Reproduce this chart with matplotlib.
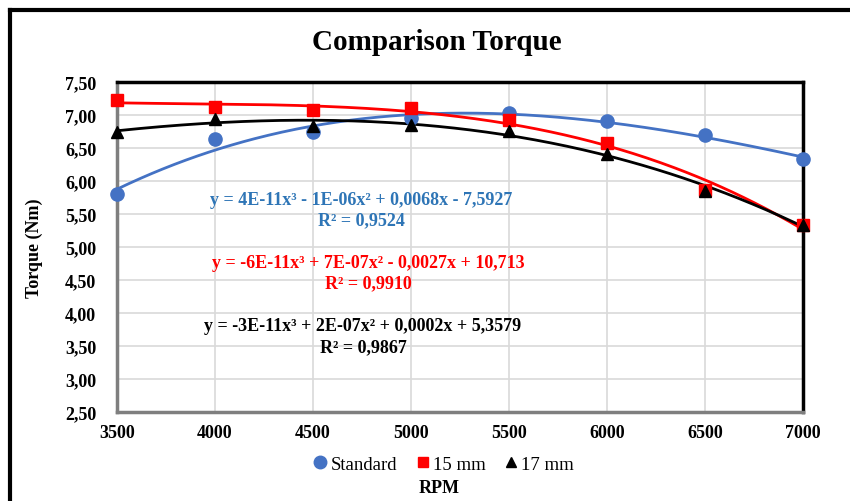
import numpy as np
import matplotlib
matplotlib.use("Agg")
import matplotlib.pyplot as plt
from matplotlib.lines import Line2D

rpm = [3500, 4000, 4500, 5000, 5500, 6000, 6500, 7000]
standard = [5.81, 6.64, 6.74, 6.95, 7.03, 6.91, 6.69, 6.34]
mm15 = [7.22, 7.12, 7.08, 7.10, 6.93, 6.57, 5.87, 5.33]
mm17 = [6.75, 6.94, 6.84, 6.85, 6.76, 6.41, 5.85, 5.34]

eq_std = ["y = 4E-11x³ - 1E-06x² + 0,0068x - 7,5927", "R² = 0,9524"]
eq_15 = ["y = -6E-11x³ + 7E-07x² - 0,0027x + 10,713", "R² = 0,9910"]
eq_17 = ["y = -3E-11x³ + 2E-07x² + 0,0002x + 5,3579", "R² = 0,9867"]

yticks = [2.5, 3.0, 3.5, 4.0, 4.5, 5.0, 5.5, 6.0, 6.5, 7.0, 7.5]
xticks = [3500, 4000, 4500, 5000, 5500, 6000, 6500, 7000]

plt.rcParams['font.family'] = ['Liberation Serif', 'DejaVu Serif']

W, H = 850, 502
fig = plt.figure(figsize=(W / 100, H / 100), dpi=100)
ax = fig.add_axes([117 / W, 1 - 413 / H, (803 - 117) / W, (413 - 83) / H])

blue, red, black = '#4472C4', '#FF0000', '#000000'
x = np.array(rpm, dtype=float)
xs = np.linspace(3500, 7000, 300)
for ys, c, m, ms in [(standard, blue, 'o', 9.5), (mm15, red, 's', 8), (mm17, black, '^', 8)]:
    p = np.polyfit(x, np.array(ys), 3)
    ax.plot(xs, np.polyval(p, xs), color=c, lw=2, zorder=3)
    ax.plot(x, ys, linestyle='none', marker=m, color=c, markersize=ms, zorder=4,
            clip_on=False)

ax.set_xlim(3500, 7000)
ax.set_ylim(2.5, 7.5)
ax.set_xticks(xticks)
ax.set_yticks(yticks)
ax.set_xticklabels([str(v) for v in xticks], fontweight='bold', fontsize=13)
ax.set_yticklabels([f"{v:.2f}".replace('.', ',') for v in yticks], fontweight='bold', fontsize=13)
ax.tick_params(length=0, pad=9)
ax.tick_params(axis='y', pad=15)
ax.grid(True, color='#D9D9D9', lw=1.2, zorder=0)
ax.set_axisbelow(True)
for s in ['top', 'right']:
    ax.spines[s].set_color('black')
    ax.spines[s].set_linewidth(2.5)
for s in ['left', 'bottom']:
    ax.spines[s].set_color('#7F7F7F')
    ax.spines[s].set_linewidth(2.5)

# equations
def eq(lines, color, cx, y1, y2):
    fig.text(cx / W, 1 - y1 / H, lines[0], color=color, fontsize=13, fontweight='bold',
             ha='center', va='center')
    fig.text(cx / W, 1 - y2 / H, lines[1], color=color, fontsize=13, fontweight='bold',
             ha='center', va='center')

eq(eq_std, '#2E75B6', 361, 201, 221)
eq(eq_15, red, 368, 264, 284)
eq(eq_17, black, 363, 327, 348)

fig.text(437 / W, 1 - 42 / H, "Comparison Torque", fontsize=21, fontweight='bold',
         ha='center', va='center')
fig.text(34 / W, 1 - 248 / H, "Torque (Nm)", fontsize=13, fontweight='bold',
         ha='center', va='center', rotation=90)
fig.text(439 / W, 1 - 489 / H, "RPM", fontsize=13, fontweight='bold',
         ha='center', va='center')

handles = [Line2D([], [], linestyle='none', marker='o', color=blue, markersize=9),
           Line2D([], [], linestyle='none', marker='s', color=red, markersize=7),
           Line2D([], [], linestyle='none', marker='^', color=black, markersize=7)]
fig.legend(handles, ['Standard', '15 mm', '17 mm'], loc='center',
           bbox_to_anchor=(442 / W, 1 - 465 / H), ncol=3, frameon=False,
           prop={'size': 13.5}, handletextpad=0.0, columnspacing=0.8, handlelength=1.1,
           borderpad=0)

# outer border
fig.add_artist(Line2D([10 / W, 1.0], [1 - 11 / H, 1 - 11 / H], color='black', lw=3,
                      transform=fig.transFigure))
fig.add_artist(Line2D([10 / W, 10 / W], [1 - 11 / H, 0.0], color='black', lw=3,
                      transform=fig.transFigure))

fig.savefig('out.png', dpi=100, facecolor='white')
